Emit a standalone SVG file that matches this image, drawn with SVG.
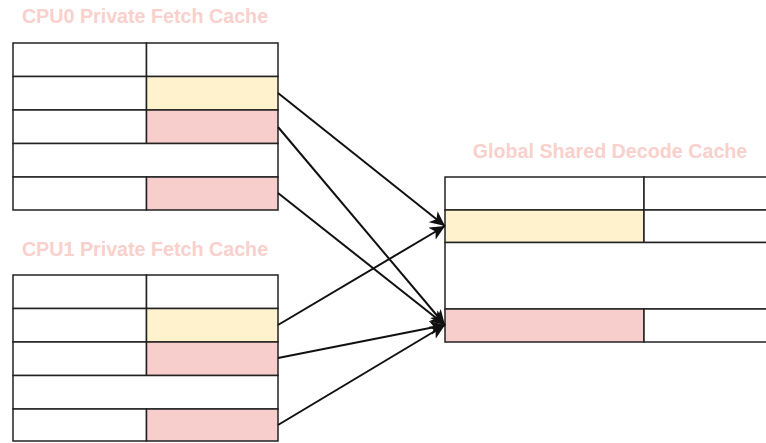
<svg xmlns="http://www.w3.org/2000/svg" width="766" height="443" viewBox="0 0 766 443">
<style>
.t{font-family:"Liberation Sans",Arial,sans-serif;font-weight:bold;font-size:19.7px;fill:#F9D0CC;text-anchor:middle}
.c{stroke:#222;stroke-width:1.5}
.w{fill:#fff}
.y{fill:#FFF2CC}
.p{fill:#F8CECC}
.e{fill:none;stroke:#111;stroke-width:2}
</style>
<defs>
<marker id="ar" markerUnits="userSpaceOnUse" markerWidth="16" markerHeight="14" viewBox="0 0 16 14" refX="15" refY="7" orient="auto">
<path d="M0,0 L15,7 L0,14 L4,7 Z" fill="#111"/>
</marker>
</defs>
<rect width="766" height="443" fill="#fff"/>
<g id="cpu0">
<text class="t" x="145" y="23">CPU0 Private Fetch Cache</text>
<rect class="c w" x="13" y="43" width="133.5" height="33.5"/>
<rect class="c w" x="146.5" y="43" width="131.5" height="33.5"/>
<rect class="c w" x="13" y="76.5" width="133.5" height="33.5"/>
<rect class="c y" x="146.5" y="76.5" width="131.5" height="33.5"/>
<rect class="c w" x="13" y="110" width="133.5" height="33.5"/>
<rect class="c p" x="146.5" y="110" width="131.5" height="33.5"/>
<rect class="c w" x="13" y="143.5" width="265" height="33.5"/>
<rect class="c w" x="13" y="177" width="133.5" height="33"/>
<rect class="c p" x="146.5" y="177" width="131.5" height="33"/>
</g>
<g id="cpu1">
<text class="t" x="145" y="256">CPU1 Private Fetch Cache</text>
<rect class="c w" x="13" y="275" width="133.5" height="33.5"/>
<rect class="c w" x="146.5" y="275" width="131.5" height="33.5"/>
<rect class="c w" x="13" y="308.5" width="133.5" height="33.5"/>
<rect class="c y" x="146.5" y="308.5" width="131.5" height="33.5"/>
<rect class="c w" x="13" y="342" width="133.5" height="33.5"/>
<rect class="c p" x="146.5" y="342" width="131.5" height="33.5"/>
<rect class="c w" x="13" y="375.5" width="265" height="33.5"/>
<rect class="c w" x="13" y="409" width="133.5" height="32"/>
<rect class="c p" x="146.5" y="409" width="131.5" height="32"/>
</g>
<g id="global">
<text class="t" x="610" y="158">Global Shared Decode Cache</text>
<rect class="c w" x="445" y="177" width="199" height="33"/>
<rect class="c w" x="644" y="177" width="140" height="33"/>
<rect class="c y" x="445" y="210" width="199" height="32.5"/>
<rect class="c w" x="644" y="210" width="140" height="32.5"/>
<rect class="c w" x="445" y="242.5" width="339" height="66.5"/>
<rect class="c p" x="445" y="309" width="199" height="33"/>
<rect class="c w" x="644" y="309" width="140" height="33"/>
</g>
<g id="connectors">
<line class="e" x1="278" y1="93" x2="445" y2="226" marker-end="url(#ar)"/>
<line class="e" x1="278" y1="127" x2="445" y2="325" marker-end="url(#ar)"/>
<line class="e" x1="278" y1="193" x2="445" y2="325" marker-end="url(#ar)"/>
<line class="e" x1="278" y1="325" x2="445" y2="226" marker-end="url(#ar)"/>
<line class="e" x1="278" y1="358" x2="445" y2="325" marker-end="url(#ar)"/>
<line class="e" x1="278" y1="425" x2="445" y2="325" marker-end="url(#ar)"/>
</g>
</svg>
